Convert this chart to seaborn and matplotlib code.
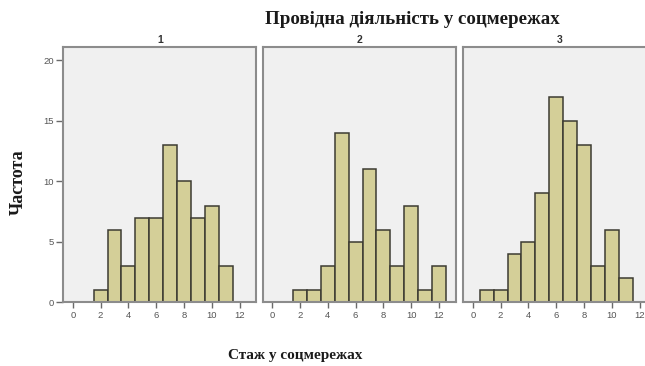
import numpy as np
import pandas as pd
import matplotlib
matplotlib.use("Agg")
import matplotlib.pyplot as plt
import seaborn as sns

# Years of experience in social networks (x categories)
experience = list(range(0, 13))

# Frequency of each experience value, per leading-activity group
counts_group1 = [0, 0, 1, 6, 3, 7, 7, 13, 10, 7, 8, 3, 0]
counts_group2 = [0, 0, 1, 1, 3, 14, 5, 11, 6, 3, 8, 1, 3]
counts_group3 = [0, 1, 1, 4, 5, 9, 17, 15, 13, 3, 6, 2, 0]

group_labels = ["1", "2", "3"]
x_ticks = [0, 2, 4, 6, 8, 10, 12]
y_ticks = [0, 5, 10, 15, 20]

title_text = "Провідна діяльність у соцмережах"
xlabel_text = "Стаж у соцмережах"
ylabel_text = "Частота"

frames = []
for label, counts in zip(group_labels, [counts_group1, counts_group2, counts_group3]):
    frames.append(pd.DataFrame({"group": label, "stazh": experience, "n": counts}))
df = pd.concat(frames, ignore_index=True)

sns.set_theme(style="white")
plt.rcParams["font.family"] = ["Liberation Sans", "DejaVu Sans"]

W, H = 645, 366
fig = plt.figure(figsize=(W / 100, H / 100), dpi=100)

bar_face = "#D4CF98"
bar_edge = "#3C3B32"
panel_bg = "#F0F0F0"
frame_col = "#8C8C8C"
tick_col = "#6A6A6A"

lefts = [63.3, 262.7, 463.3]
ax_w = 193
top_px, bottom_px = 47, 302.3

for i, (label, left) in enumerate(zip(group_labels, lefts)):
    ax = fig.add_axes([left / W, 1 - bottom_px / H, ax_w / W, (bottom_px - top_px) / H])
    sub = df[df["group"] == label]
    sns.histplot(data=sub, x="stazh", weights="n", discrete=True, ax=ax,
                 color=bar_face, edgecolor=bar_edge, linewidth=1.1, alpha=1.0,
                 shrink=1.0)
    ax.set_facecolor(panel_bg)
    ax.set_xlim(-0.68, 13.2)
    ax.set_ylim(0, 21.1)
    ax.set_xticks(x_ticks)
    ax.set_xticklabels([str(t) for t in x_ticks])
    ax.set_xlabel("")
    ax.set_ylabel("")
    for sp in ax.spines.values():
        sp.set_visible(True)
        sp.set_color(frame_col)
        sp.set_linewidth(1.5)
    ax.tick_params(axis="x", bottom=True, direction="out", length=4, width=1.0,
                   color=tick_col, labelsize=6.8, labelcolor="#555555", pad=2)
    if i == 0:
        ax.set_yticks(y_ticks)
        ax.set_yticklabels([str(t) for t in y_ticks])
        ax.tick_params(axis="y", left=True, direction="out", length=5, width=1.0,
                       color=tick_col, labelsize=6.8, labelcolor="#555555", pad=1.5)
    else:
        ax.set_yticks(y_ticks)
        ax.tick_params(axis="y", left=False, labelleft=False)
    ax.set_title(label, fontsize=7.5, fontweight="bold", color="#333333", pad=3)

serif = ["Liberation Serif", "DejaVu Serif"]
fig.text(412 / W, 1 - 20 / H, title_text, ha="center", va="center",
         fontsize=13.6, fontweight="bold", family=serif, color="#1a1a1a")
fig.text(295 / W, 1 - 355 / H, xlabel_text, ha="center", va="center",
         fontsize=11, fontweight="bold", family=serif, color="#1a1a1a")
fig.text(18 / W, 1 - 182 / H, ylabel_text, ha="center", va="center", rotation=90,
         fontsize=13, fontweight="bold", family=serif, color="#1a1a1a")

fig.savefig("out.png", dpi=100)
